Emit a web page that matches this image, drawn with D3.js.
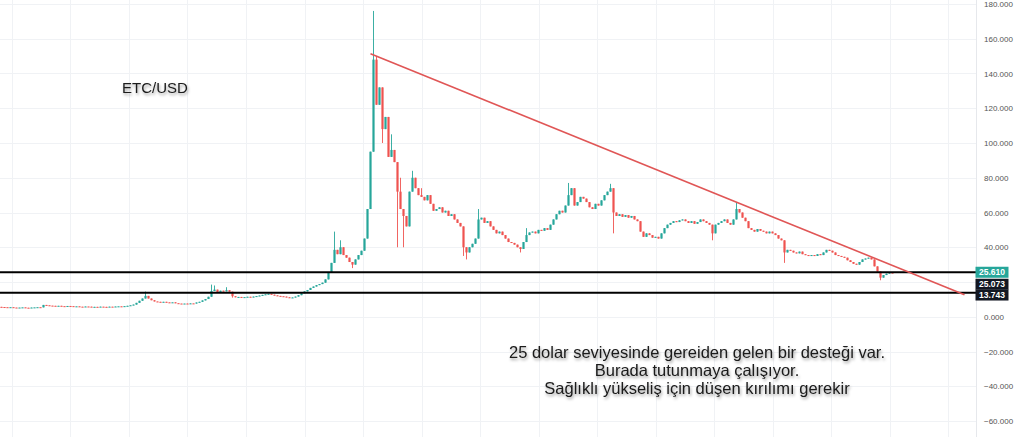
<!DOCTYPE html>
<html>
<head>
<meta charset="utf-8">
<script src="https://cdn.jsdelivr.net/npm/d3@7"></script>
<style>
  html, body { margin: 0; padding: 0; background: #fff; }
  svg { display: block; }
  .tick-label { font-family: "Liberation Sans", Arial, sans-serif; font-size: 8px; fill: #555; }
  .price-tag { font-family: "Liberation Sans", Arial, sans-serif; font-size: 8.5px; font-weight: bold; fill: #fff; }
  .note { font-family: "Liberation Sans", Arial, sans-serif; font-size: 15px; fill: #1a1a1a; }
  .body-note { font-size: 16.5px; }
</style>
</head>
<body>
<svg class="canvas"></svg>
<script>
// *** DATA ***
// daily-ish closes, oldest first
var closes = [
  5.6, 5.5, 5.4, 5.5, 5.3, 5.2, 5.3, 5.4, 5.2, 5.1, 5.3, 5.4, 5.5, 5.4,
  6.8, 6.6, 6.4,
  6.3, 6.2, 6.3, 6.1, 6.0, 6.2, 6.1, 5.9, 6.0, 5.8, 5.7, 5.9, 5.8, 5.6, 5.7, 5.6, 5.8,
  5.7, 5.6, 5.8, 5.7, 5.9, 6.0, 5.8, 6.1, 6.3, 6.6,
  7.0, 8.0, 9.2, 10.5, 12.0, 10.5, 9.5, 8.8, 8.6, 8.4, 8.6, 8.3, 8.1, 8.3,
  7.8, 7.6, 7.5, 7.6, 7.4, 7.7, 7.6, 8.2, 8.6, 9.4, 10.2, 11.5, 14.8, 15.6,
  14.2, 15.0, 14.6, 15.3, 14.4, 11.8, 11.2, 11.4, 11.0, 11.3, 11.5, 11.2, 11.6,
  11.9, 12.2, 12.6, 12.9, 13.2, 12.7, 12.3, 12.0, 11.8, 11.6, 11.2, 10.8, 11.1,
  11.6, 12.4, 13.5, 14.6, 15.4, 16.6, 17.4, 18.2, 18.8, 19.6, 21.5, 25.5, 31.0,
  38.5, 36.0, 40.0, 35.5, 34.0, 31.5, 30.0, 33.0, 35.5, 38.0, 45.0, 62.0, 95.0,
  148.0, 122.0, 132.0, 108.0, 115.0, 92.0, 96.0, 89.0, 72.0, 62.0, 58.0, 52.0,
  72.0, 80.0, 74.0, 70.0, 69.0, 67.0, 70.0, 65.0, 61.0, 62.0, 63.0, 60.0, 61.0,
  58.0, 59.0, 56.0, 54.0, 52.0, 40.0, 37.0, 40.0, 42.0, 45.0, 56.0, 57.0, 54.0,
  55.0, 52.0, 50.0, 48.0, 49.0, 47.0, 45.0, 43.0, 42.5, 41.5, 40.0, 39.0, 43.0,
  47.0, 48.5, 49.0, 48.0, 50.0, 49.5, 51.0, 50.0, 53.0, 56.0, 59.0, 61.0, 60.0,
  64.0, 70.0, 74.0, 64.0, 66.0, 69.0, 68.0, 66.0, 63.0, 62.0, 65.0, 64.0, 67.0,
  70.0, 72.0, 74.0, 60.0, 58.0, 59.0, 57.5, 58.5, 57.0, 58.0, 56.0, 55.0, 49.0,
  46.0, 48.0, 47.0, 45.5, 46.0, 45.0, 48.0, 51.0, 53.0, 54.0, 55.0, 54.5, 55.5,
  56.0, 55.0, 54.0, 55.0, 53.5, 54.5, 56.0, 55.0, 54.0, 53.0, 48.0, 53.0, 54.0,
  55.0, 56.0, 54.0, 53.0, 56.0, 62.0, 60.0, 57.0, 55.0, 51.0, 50.0, 49.0, 50.5,
  49.5, 49.0, 48.0, 49.0, 48.0, 47.0, 45.0, 44.0, 37.0, 38.5, 38.0, 37.0, 36.5,
  37.5, 36.0, 35.5, 35.0, 35.5, 35.0, 36.0, 35.5, 37.0, 38.5, 38.0, 37.0, 35.5,
  35.0, 34.5, 34.0, 32.5, 31.5, 30.5, 30.0, 31.5, 33.0, 33.5, 34.0, 33.0, 29.0,
  26.0, 22.5, 24.0, 24.8, 25.4, 25.073
];
var firstOpen = 5.7;

// visible wicks: [candle index, high, low] (null = no wick on that side)
var wicks = [
  [48, 14.5, null], [70, 18.5, null], [71, 18, null], [75, 17, null], [77, null, 11],
  [111, 49, null], [113, 44, null], [117, null, 28], [124, 176, null], [125, 150, null],
  [127, null, 100], [130, 105, null], [132, null, 40], [133, 80, null], [134, null, 40],
  [137, 84, null], [140, 74, null], [154, null, 35], [155, null, 33], [159, 62, null],
  [173, null, 37], [175, 51, null], [189, 77, null], [203, 76.5, null], [204, null, 48],
  [237, null, 44], [245, 66, null], [261, null, 31], [293, null, 21]
];

// support levels and descending trend line [index, price]
var supportLevels = [25.61, 13.743];
var trendLine = [[123, 151.4], [321, 12.7]];

// price tags on the axis
var tagLabels = ["25.610", "25.073", "13.743"];
var tagColors = ["#26a69a", "#131722", "#131722"];
var tagCenters = [25.61, 18.7, 12.5];

var yTicks = [180, 160, 140, 120, 100, 80, 60, 40, 0, -20, -40, -60];
var gridTicks = [180, 160, 140, 120, 100, 80, 60, 40, 20, 0, -20, -40, -60];
var gridIdx = [3.5, 23, 42.5, 62, 81.5, 101, 120.5, 140, 159.5, 179, 198.5, 218, 237.5, 257, 276.5, 296, 315.5];

var title = "ETC/USD";
var noteLines = [
  "25 dolar seviyesinde gereiden gelen bir desteği var.",
  "Burada tutunmaya çalışıyor.",
  "Sağlıklı yükseliş için düşen kırılımı gerekir"
];

// *** SVG STUFF ***
var width = 1024;
var height = 437;
var axisX = 976;
var upColor = "#26a69a";
var downColor = "#ef5350";

var x = d3.scaleLinear()
  .domain([0, closes.length - 1])
  .range([1.5, 1.5 + 3 * (closes.length - 1)]);
var y = d3.scaleLinear()
  .domain([-60, 180])
  .range([421, 4]);

var svg = d3.select(".canvas")
  .attr("width", width)
  .attr("height", height);

var defs = svg.append("defs");
var shadow = defs.append("filter")
  .attr("id", "shadow")
  .attr("x", "-10%").attr("y", "-40%")
  .attr("width", "120%").attr("height", "180%");
shadow.append("feDropShadow")
  .attr("dx", 1).attr("dy", 2)
  .attr("stdDeviation", 1.8)
  .attr("flood-color", "#000")
  .attr("flood-opacity", 0.4);

defs.append("clipPath").attr("id", "plot-clip")
  .append("rect").attr("x", 0).attr("y", 0).attr("width", axisX).attr("height", height);

// --- grid ---
var grid = svg.append("g").attr("class", "grid");
grid.selectAll("line.h")
  .data(gridTicks)
  .enter()
    .append("line")
    .attr("class", "h")
    .attr("x1", 0).attr("x2", axisX)
    .attr("y1", function(d) { return Math.round(y(d)) + 0.5; })
    .attr("y2", function(d) { return Math.round(y(d)) + 0.5; })
    .attr("stroke", "#f0f2f5");
grid.selectAll("line.v")
  .data(gridIdx)
  .enter()
    .append("line")
    .attr("class", "v")
    .attr("x1", function(d) { return Math.round(x(d)) + 0.5; })
    .attr("x2", function(d) { return Math.round(x(d)) + 0.5; })
    .attr("y1", 0).attr("y2", height)
    .attr("stroke", "#f0f2f5");

// --- candles ---
var candles = closes.map(function(c, i) {
  var o = i == 0 ? firstOpen : closes[i - 1];
  return { i: i, open: o, close: c, high: Math.max(o, c), low: Math.min(o, c) };
});
wicks.forEach(function(w) {
  var d = candles[w[0]];
  if (w[1] != null) { d.high = w[1]; }
  if (w[2] != null) { d.low = w[2]; }
});

var plot = svg.append("g").attr("clip-path", "url(#plot-clip)");
var candle = plot.selectAll("g.candle")
  .data(candles)
  .enter()
    .append("g")
    .attr("class", "candle");

candle.append("line")
  .attr("x1", function(d) { return x(d.i); })
  .attr("x2", function(d) { return x(d.i); })
  .attr("y1", function(d) { return y(d.high); })
  .attr("y2", function(d) { return y(d.low); })
  .attr("stroke", function(d) { return d.close >= d.open ? upColor : downColor; })
  .attr("stroke-width", 0.9);

candle.append("rect")
  .attr("x", function(d) { return x(d.i) - 1.1; })
  .attr("width", 2.2)
  .attr("y", function(d) { return y(Math.max(d.open, d.close)); })
  .attr("height", function(d) {
    return Math.max(1, Math.abs(y(d.open) - y(d.close)));
  })
  .attr("fill", function(d) { return d.close >= d.open ? upColor : downColor; });

// --- drawings ---
plot.selectAll("line.support")
  .data(supportLevels)
  .enter()
    .append("line")
    .attr("class", "support")
    .attr("x1", 0).attr("x2", axisX)
    .attr("y1", function(d) { return y(d); })
    .attr("y2", function(d) { return y(d); })
    .attr("stroke", "#000")
    .attr("stroke-width", 2);

plot.append("line")
  .attr("x1", x(trendLine[0][0])).attr("y1", y(trendLine[0][1]))
  .attr("x2", x(trendLine[1][0])).attr("y2", y(trendLine[1][1]))
  .attr("stroke", "#e05656")
  .attr("stroke-width", 1.6);

// --- price axis ---
svg.append("line")
  .attr("x1", axisX + 0.5).attr("x2", axisX + 0.5)
  .attr("y1", 0).attr("y2", height)
  .attr("stroke", "#e6e8ec");

svg.selectAll("text.tick-label")
  .data(yTicks)
  .enter()
    .append("text")
    .attr("class", "tick-label")
    .attr("x", 984)
    .attr("y", function(d) { return y(d) + 3; })
    .text(function(d) { return (d < 0 ? "\u2212" : "") + Math.abs(d).toFixed(3); });

var tag = svg.selectAll("g.tag")
  .data(tagLabels)
  .enter()
    .append("g")
    .attr("class", "tag")
    .attr("transform", function(d, i) {
      return "translate(" + (axisX - 0.5) + ", " + (y(tagCenters[i]) - 5.5) + ")";
    });
tag.append("rect")
  .attr("width", 33)
  .attr("height", 11)
  .attr("fill", function(d, i) { return tagColors[i]; });
tag.append("text")
  .attr("class", "price-tag")
  .attr("x", 16.5)
  .attr("y", 8.5)
  .attr("text-anchor", "middle")
  .text(function(d) { return d; });

// --- annotations ---
svg.append("text")
  .attr("class", "note")
  .attr("x", 155)
  .attr("y", 93)
  .attr("text-anchor", "middle")
  .attr("filter", "url(#shadow)")
  .text(title);

svg.selectAll("text.body-note")
  .data(noteLines)
  .enter()
    .append("text")
    .attr("class", "note body-note")
    .attr("x", 697)
    .attr("y", function(d, i) { return 358 + i * 18; })
    .attr("text-anchor", "middle")
    .attr("filter", "url(#shadow)")
    .text(function(d) { return d; });
</script>
</body>
</html>
